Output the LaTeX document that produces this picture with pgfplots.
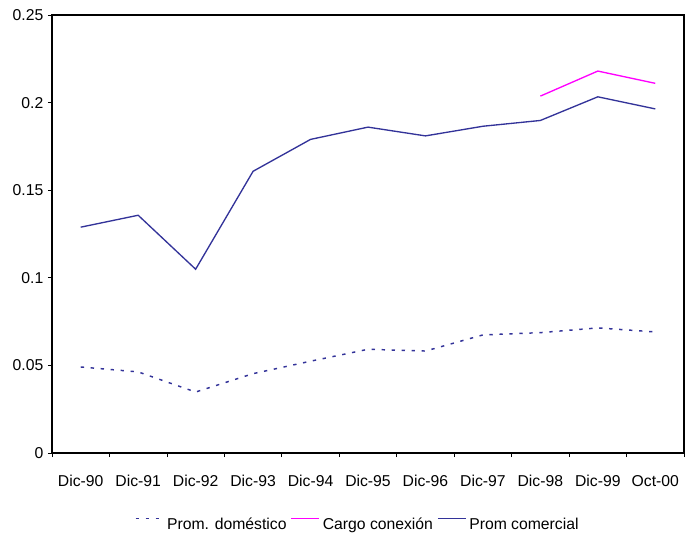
\documentclass[border=0pt]{standalone}
\usepackage{pgfplots}
\pgfplotsset{compat=1.18}
\usepackage{fontspec}
\setmainfont{Liberation Sans}
\definecolor{navy}{HTML}{333399}
\definecolor{cargo}{HTML}{FF00FF}
\begin{document}
\begin{tikzpicture}
\begin{axis}[
    at={(0pt,0pt)}, anchor=south west,
    width=474pt, height=328.5pt, scale only axis,
    xmin=-0.5, xmax=10.5, ymin=0, ymax=0.25,
    xtick={-0.5,0.5,...,10.5},
    x tick label as interval,
    xticklabels={Dic-90,Dic-91,Dic-92,Dic-93,Dic-94,Dic-95,Dic-96,Dic-97,Dic-98,Dic-99,Oct-00,},
    ytick={0,0.05,0.1,0.15,0.2,0.25},
    yticklabels={0,0.05,0.1,0.15,0.2,0.25},
    xtick pos=lower, ytick pos=left,
    tick align=outside,
    major tick length=3pt,
    tick style={black, line width=0.6pt},
    axis line style={black, line width=0.8pt},
    tick label style={font=\fontsize{11.8}{14}\selectfont},
    xticklabel style={yshift=-10pt},
    legend style={at={(0.5,-0.135)}, anchor=north, xshift=-7.5pt,
        draw=none, fill=none,
        legend columns=-1, font=\fontsize{11.8}{14}\selectfont,
        /tikz/every even column/.append style={column sep=1pt}},
    legend image code/.code={\draw[#1, line width=1.2pt] (0pt,4.6pt) -- (21pt,4.6pt);},
]
% Prom. domestico
\addplot[navy, line width=1.1pt, dash pattern=on 2.5pt off 5pt] coordinates {
    (0,0.0491) (1,0.0463) (2,0.0348) (3,0.0453) (4,0.0524) (5,0.0592)
    (6,0.0582) (7,0.0674) (8,0.0687) (9,0.0714) (10,0.0691)
};
\addlegendentry{Prom. doméstico}
% Cargo conexion
\addplot[cargo, line width=1pt] coordinates {
    (8,0.2037) (9,0.2180) (10,0.2110)
};
\addlegendentry{Cargo conexión}
% Prom comercial
\addplot[navy, line width=1pt] coordinates {
    (0,0.1289) (1,0.1357) (2,0.1049) (3,0.1608) (4,0.1790) (5,0.1860)
    (6,0.1810) (7,0.1865) (8,0.1898) (9,0.2033) (10,0.1964)
};
\addlegendentry{Prom comercial}
\end{axis}
\pgfresetboundingbox
\path[use as bounding box] (-39pt,-62.25pt) rectangle (474.75pt,339.75pt);
\end{tikzpicture}
\end{document}
